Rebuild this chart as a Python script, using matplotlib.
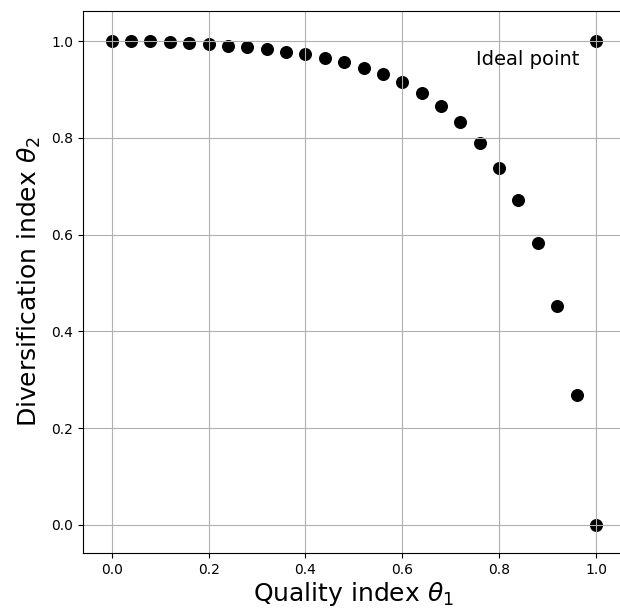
import matplotlib
matplotlib.use("Agg")
import matplotlib.pyplot as plt

theta1 = [0.00, 0.04, 0.08, 0.12, 0.16, 0.20, 0.24, 0.28, 0.32, 0.36, 0.40, 0.44, 0.48,
          0.52, 0.56, 0.60, 0.64, 0.68, 0.72, 0.76, 0.80, 0.84, 0.88, 0.92, 0.96, 1.00]
theta2 = [1.000, 0.999, 0.999, 0.997, 0.995, 0.993, 0.990, 0.987, 0.983, 0.978, 0.973, 0.965, 0.956,
          0.945, 0.931, 0.915, 0.893, 0.866, 0.833, 0.790, 0.738, 0.671, 0.583, 0.452, 0.269, 0.000]
ideal_x = [1.0]
ideal_y = [1.0]
xticks = [0.0, 0.2, 0.4, 0.6, 0.8, 1.0]
yticks = [0.0, 0.2, 0.4, 0.6, 0.8, 1.0]

W, H = 620, 611
fig = plt.figure(figsize=(W / 100, H / 100), dpi=100)
left_px, right_px, top_px, bottom_px = 82.7, 625.0, 11.0, 553.0
ax = fig.add_axes([left_px / W, (H - bottom_px) / H, (right_px - left_px) / W, (bottom_px - top_px) / H])

ax.scatter(theta1, theta2, s=70, color='black')
ax.scatter(ideal_x, ideal_y, s=70, color='black')
ax.text(0.752, 0.95, 'Ideal point', fontsize=14)

ax.set_xlim(-0.06, 1.06)
ax.set_ylim(-0.058, 1.062)
ax.set_xticks(xticks)
ax.set_yticks(yticks)
ax.tick_params(labelsize=10)
ax.grid(True)
ax.set_xlabel(r'Quality index $\theta_1$', fontsize=18, labelpad=2)
ax.set_ylabel(r'Diversification index $\theta_2$', fontsize=18, labelpad=6)

fig.savefig('out.png', dpi=100)
